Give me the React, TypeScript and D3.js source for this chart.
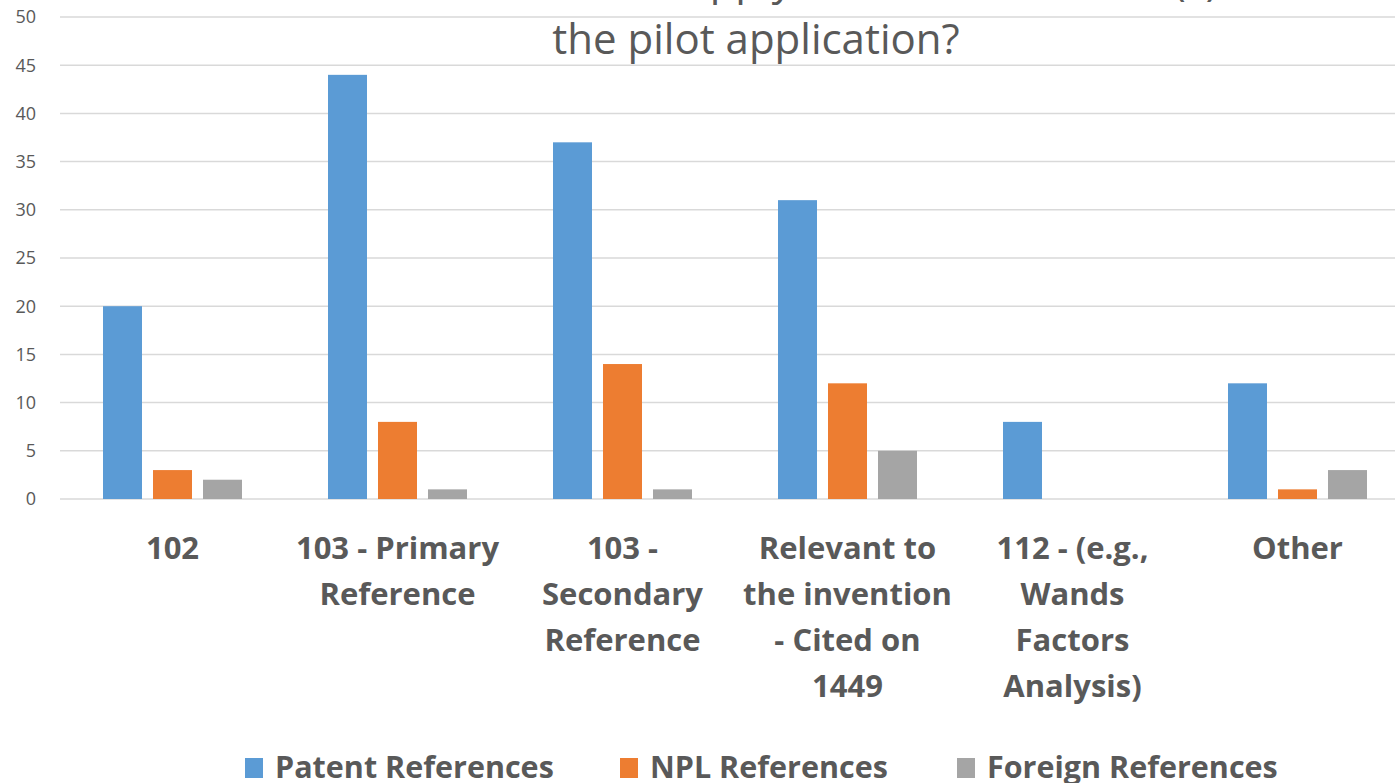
import React from "react"
import * as d3 from "d3"

const categories = [
  "102",
  "103 - Primary Reference",
  "103 - Secondary Reference",
  "Relevant to the invention - Cited on 1449",
  "112 - (e.g., Wands Factors Analysis)",
  "Other",
]

// wrapped the way the original chart breaks them
const categoryLines = [
  ["102"],
  ["103 - Primary", "Reference"],
  ["103 -", "Secondary", "Reference"],
  ["Relevant to", "the invention", "- Cited on", "1449"],
  ["112 - (e.g.,", "Wands", "Factors", "Analysis)"],
  ["Other"],
]

const seriesNames = ["Patent References", "NPL References", "Foreign References"]
const seriesColors = ["#5B9BD5", "#ED7D31", "#A5A5A5"]

const patentValues = [20, 44, 37, 31, 8, 12]
const nplValues = [3, 8, 14, 12, 0, 1]
const foreignValues = [2, 1, 1, 5, 0, 3]

const yTicks = [0, 5, 10, 15, 20, 25, 30, 35, 40, 45, 50]

const titleLines = [
  "How did the examiner apply the cited reference(s) to",
  "the pilot application?",
]

const WIDTH = 1395
const HEIGHT = 783
const FONT = "'Open Sans', 'DejaVu Sans', sans-serif"
const TEXT = "#595959"

export default function App() {
  const margin = { left: 60, right: -15, top: 17, bottom: 284 }

  const x0 = d3
    .scaleBand()
    .domain(categories)
    .range([margin.left, WIDTH - margin.right])
    .paddingInner(1 / 3)
    .paddingOuter(1 / 6)

  const x1 = d3
    .scaleBand()
    .domain(seriesNames)
    .range([0, x0.bandwidth()])
    .paddingInner(0.22)
    .paddingOuter(0.11)

  const y = d3
    .scaleLinear()
    .domain([0, 50])
    .range([HEIGHT - margin.bottom, margin.top])

  const allSeries = [patentValues, nplValues, foreignValues]

  const legendX = [245, 620, 957]

  return (
    <svg
      width={WIDTH}
      height={HEIGHT}
      style={{ position: "absolute", left: 0, top: 0, background: "#fff" }}
      fontFamily={FONT}
    >
      {/* gridlines */}
      {yTicks.map(t => (
        <line
          key={"g" + t}
          x1={margin.left}
          x2={WIDTH}
          y1={y(t)}
          y2={y(t)}
          stroke="#D9D9D9"
          strokeWidth={1.5}
        />
      ))}

      {/* y tick labels */}
      {yTicks.map(t => (
        <text
          key={"t" + t}
          x={36}
          y={y(t)}
          dy="0.35em"
          textAnchor="end"
          fontSize={18}
          fill={TEXT}
        >
          {t}
        </text>
      ))}

      {/* bars */}
      {categories.map((c, ci) => (
        <g key={c} transform={`translate(${x0(c)},0)`}>
          {seriesNames.map((s, si) => {
            const v = allSeries[si][ci]
            if (!v) return null
            return (
              <rect
                key={s}
                x={x1(s)}
                y={y(v)}
                width={x1.bandwidth()}
                height={y(0) - y(v)}
                fill={seriesColors[si]}
              />
            )
          })}
        </g>
      ))}

      {/* title (first line is cut off by the top edge) */}
      {titleLines.map((line, i) => (
        <text
          key={line}
          x={756}
          y={-5 + i * 59}
          textAnchor="middle"
          fontSize={42}
          fill={TEXT}
        >
          {line}
        </text>
      ))}

      {/* category labels */}
      {categories.map((c, ci) => (
        <text
          key={"l" + c}
          textAnchor="middle"
          fontSize={31}
          fontWeight="bold"
          fill={TEXT}
        >
          {categoryLines[ci].map((line, li) => (
            <tspan
              key={li}
              x={(x0(c) ?? 0) + x0.bandwidth() / 2}
              y={559 + li * 46}
            >
              {line}
            </tspan>
          ))}
        </text>
      ))}

      {/* legend */}
      {seriesNames.map((s, si) => (
        <g key={"lg" + s} transform={`translate(${legendX[si]},0)`}>
          <rect x={0} y={758} width={18} height={20} fill={seriesColors[si]} />
          <text x={30} y={778} fontSize={30.5} fontWeight="bold" fill={TEXT}>
            {s}
          </text>
        </g>
      ))}
    </svg>
  )
}
